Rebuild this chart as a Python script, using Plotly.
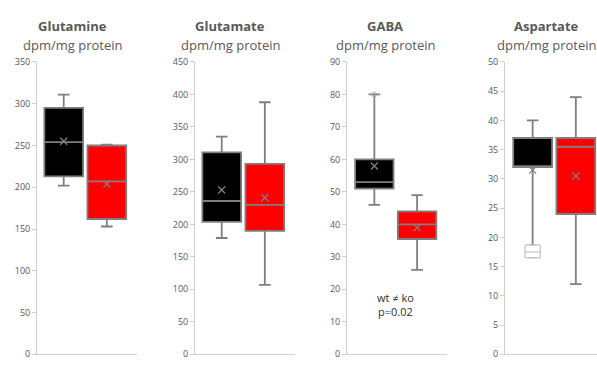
import plotly.graph_objects as go

W, H = 597, 368

panels = ["Glutamine", "Glutamate", "GABA", "Aspartate"]
unit = "dpm/mg protein"
y_max = [350, 450, 90, 50]
y_dtick = [50, 50, 10, 5]

# wt (black) statistics per panel
wt_low = [202, 179, 46, 17.5]
wt_q1 = [213, 204, 51, 32]
wt_median = [254, 236, 53, 32.2]
wt_q3 = [295, 311, 60, 37]
wt_high = [311, 335, 80, 40]
wt_mean = [255, 253, 58, 31.5]

# ko (red) statistics per panel
ko_low = [153, 107, 26, 12]
ko_q1 = [162, 190, 35.5, 24]
ko_median = [207, 230, 40, 35.5]
ko_q3 = [250, 293, 44, 37]
ko_high = [251, 388, 49, 44]
ko_mean = [204, 241, 39, 30.5]

# outliers
gaba_outlier = [80]
asp_outlier_box = dict(q1=16.5, median=17.5, q3=18.7)

note_text = "wt ≠ ko<br>p=0.02"

# layout geometry (pixels)
ax_left = [37, 195, 347, 505]
ax_right = [137, 295, 447, 597]
x_ranges = [[-0.62, 1.70], [-0.62, 1.70], [-0.64, 1.70], [-0.64, 1.49]]
title_cx = [72, 230, 385, 546]
y_bot_px, y_top_px = 360, 57

GRAY = "#7f7f7f"
AXC = "#cfcfcf"
TXT = "#595959"

fig = go.Figure()

for i in range(4):
    xa = "x" if i == 0 else f"x{i+1}"
    ya = "y" if i == 0 else f"y{i+1}"
    for pos, fill, lo, q1, md, q3, hi in [
        (0, "#000000", wt_low[i], wt_q1[i], wt_median[i], wt_q3[i], wt_high[i]),
        (1, "#ff0000", ko_low[i], ko_q1[i], ko_median[i], ko_q3[i], ko_high[i]),
    ]:
        fig.add_trace(go.Box(
            x=[pos], q1=[q1], median=[md], q3=[q3], lowerfence=[lo], upperfence=[hi],
            fillcolor=fill, line=dict(color=GRAY, width=1.8), width=0.9,
            whiskerwidth=0.3, boxpoints=False, showlegend=False,
            xaxis=xa, yaxis=ya, hoverinfo="skip",
        ))
    fig.add_trace(go.Scatter(
        x=[0, 1], y=[wt_mean[i], ko_mean[i]], mode="markers",
        marker=dict(symbol="x-thin", size=7, color=GRAY, line=dict(color=GRAY, width=1.3)),
        showlegend=False, xaxis=xa, yaxis=ya, hoverinfo="skip",
    ))

# GABA outlier
fig.add_trace(go.Scatter(
    x=[0], y=gaba_outlier, mode="markers",
    marker=dict(symbol="circle-open", size=5, color="#b0b0b0", line=dict(color="#b0b0b0", width=1)),
    showlegend=False, xaxis="x3", yaxis="y3", hoverinfo="skip",
))
# Aspartate hollow outlier box
fig.add_trace(go.Box(
    x=[0], q1=[asp_outlier_box["q1"]], median=[asp_outlier_box["median"]],
    q3=[asp_outlier_box["q3"]], lowerfence=[asp_outlier_box["q1"]],
    upperfence=[asp_outlier_box["q3"]], fillcolor="white",
    line=dict(color="#b8b8b8", width=1), width=0.35, boxpoints=False,
    showlegend=False, xaxis="x4", yaxis="y4", hoverinfo="skip",
))

layout = dict(
    width=W, height=H, margin=dict(l=0, r=0, t=0, b=0),
    paper_bgcolor="white", plot_bgcolor="white",
    font=dict(family="Open Sans", color=TXT),
    boxmode="overlay",
)
ydom = [(H - y_bot_px) / H, (H - y_top_px) / H]
annotations = []
for i in range(4):
    xk = "xaxis" if i == 0 else f"xaxis{i+1}"
    yk = "yaxis" if i == 0 else f"yaxis{i+1}"
    ya = "y" if i == 0 else f"y{i+1}"
    layout[xk] = dict(
        domain=[ax_left[i] / W, min(ax_right[i] / W, 1.0)], range=x_ranges[i],
        showticklabels=False, showgrid=False, zeroline=False, ticks="",
        showline=True, linecolor=AXC, linewidth=1, anchor=ya, fixedrange=True,
    )
    layout[yk] = dict(
        domain=ydom, range=[0, y_max[i]], dtick=y_dtick[i], showgrid=False,
        zeroline=False, showline=True, linecolor=AXC, linewidth=1,
        ticks="outside", ticklen=4, tickcolor=AXC,
        tickfont=dict(size=9, color=TXT), anchor="x" if i == 0 else f"x{i+1}",
    )
    annotations.append(dict(
        x=title_cx[i] / W, y=(H - 20) / H, xref="paper", yref="paper",
        text=f"<b>{panels[i]}</b>", showarrow=False,
        font=dict(size=13, color=TXT), xanchor="center", yanchor="middle",
    ))
    annotations.append(dict(
        x=title_cx[i] / W, y=(H - 39) / H, xref="paper", yref="paper",
        text=unit, showarrow=False,
        font=dict(size=13, color=TXT), xanchor="center", yanchor="middle",
    ))
annotations.append(dict(
    x=0.5, y=15.2, xref="x3", yref="y3", text=note_text, showarrow=False,
    font=dict(size=11, color="#303030"), xanchor="center", yanchor="middle",
))
layout["annotations"] = annotations
fig.update_layout(**layout)
fig.write_html(
    "out.html",
    config={"displayModeBar": False},
    post_script="document.body.style.margin='0';document.body.style.overflow='hidden';",
)
